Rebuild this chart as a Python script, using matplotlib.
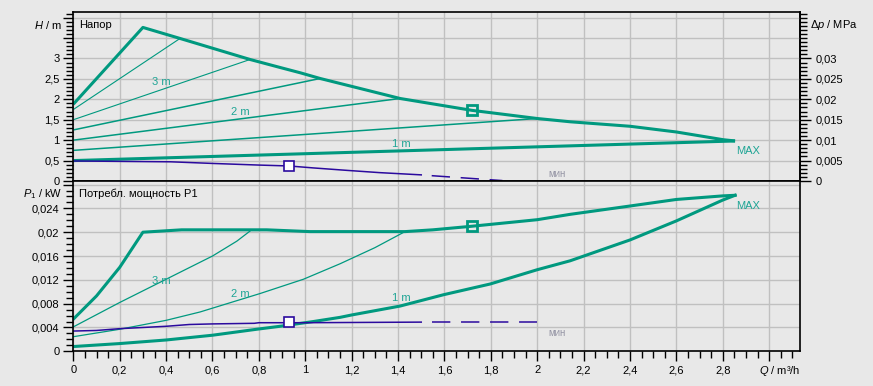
import numpy as np
import matplotlib
matplotlib.use("Agg")
import matplotlib.pyplot as plt
from matplotlib.ticker import MultipleLocator

plt.rcParams["font.family"] = ["Liberation Sans", "DejaVu Sans"]
plt.rcParams["mathtext.fontset"] = "custom"
plt.rcParams["mathtext.rm"] = "Liberation Sans"
plt.rcParams["mathtext.it"] = "Liberation Sans:italic"

# --- head (H / m) ---
q_hmax = [0, 0.3, 0.46, 0.762, 0.891, 0.978, 1.064, 1.409, 1.718, 2.0, 2.142, 2.4, 2.6, 2.803, 2.853]
h_hmax = [1.88, 3.76, 3.49, 2.975, 2.78, 2.65, 2.51, 2.02, 1.73, 1.53, 1.45, 1.34, 1.2, 1.01, 0.98]

# constant pressure lines: start head, end flow, end head
h_start = [1.75, 1.5, 1.25, 1.0, 0.75, 0.5]
q_end = [0.46, 0.762, 1.064, 1.409, 2.0, 2.853]
h_end = [3.49, 2.975, 2.51, 2.02, 1.53, 0.98]

q_hmin = [0, 0.42, 0.6, 0.8, 0.93, 1.035, 1.18, 1.32, 1.5]
h_hmin = [0.49, 0.47, 0.43, 0.39, 0.368, 0.32, 0.26, 0.205, 0.15]
q_hmin_dash = [1.545, 1.85]
h_hmin_dash = [0.13, 0.01]

# --- power (P1 / kW) ---
q_pmax = [0, 0.1, 0.2, 0.3, 0.467, 0.834, 1.02, 1.43, 1.55, 1.718, 2.0, 2.142, 2.4, 2.6, 2.8, 2.853]
p_pmax = [0.0054, 0.0093, 0.0141, 0.0200, 0.0204, 0.0204, 0.0201, 0.0201, 0.0204, 0.0210,
          0.0221, 0.0230, 0.0244, 0.0255, 0.0261, 0.0262]

q_p05 = [0, 0.2, 0.4, 0.6, 0.79, 0.891, 1.035, 1.15, 1.2, 1.409, 1.596, 1.797, 2.0, 2.142, 2.4, 2.6, 2.8, 2.853]
p_p05 = [0.0008, 0.0013, 0.0019, 0.0027, 0.0037, 0.0042, 0.0050, 0.0057, 0.0061, 0.0076,
         0.0095, 0.0113, 0.0137, 0.0152, 0.0187, 0.0219, 0.0254, 0.0262]

q_p15 = [0, 0.2, 0.4, 0.6, 0.705, 0.762]
p_p15 = [0.0041, 0.0082, 0.0121, 0.0160, 0.0185, 0.0202]

q_p10 = [0, 0.2, 0.4, 0.546, 0.805, 0.992, 1.15, 1.3, 1.43]
p_p10 = [0.00245, 0.0037, 0.0052, 0.0066, 0.0097, 0.0121, 0.0147, 0.0174, 0.0201]

q_pmin = [0, 0.1, 0.2, 0.3, 0.4, 0.5, 0.6, 0.78, 0.8, 1.0, 1.5]
p_pmin = [0.0034, 0.0035, 0.0038, 0.0040, 0.0042, 0.0045, 0.0046, 0.0047, 0.0048, 0.0048, 0.0049]
q_pmin_dash = [1.545, 2.0]
p_pmin_dash = [0.0049, 0.0049]

q_op = 1.718
h_op = 1.73
p_op = 0.021
q_opmin = 0.93
h_opmin = 0.368
p_opmin = 0.0049

# ticks
q_ticks = [0, 0.2, 0.4, 0.6, 0.8, 1.0, 1.2, 1.4, 1.6, 1.8, 2.0, 2.2, 2.4, 2.6, 2.8, 3.0]
q_labels = ["0", "0,2", "0,4", "0,6", "0,8", "1", "1,2", "1,4", "1,6", "1,8", "2",
            "2,2", "2,4", "2,6", "2,8", ""]
h_ticks = [0, 0.5, 1, 1.5, 2, 2.5, 3, 3.5, 4]
h_labels = ["0", "0,5", "1", "1,5", "2", "2,5", "3", "", ""]
dp_ticks = [0, 0.005, 0.01, 0.015, 0.02, 0.025, 0.03]
dp_labels = ["0", "0,005", "0,01", "0,015", "0,02", "0,025", "0,03"]
p_ticks = [0, 0.004, 0.008, 0.012, 0.016, 0.02, 0.024, 0.028]
p_labels = ["0", "0,004", "0,008", "0,012", "0,016", "0,02", "0,024", ""]

teal = "#00997f"
teal_txt = "#1fa595"
purple = "#2b0a9e"
bg = "#e8e8e8"

fig = plt.figure(figsize=(8.73, 3.86), dpi=100, facecolor=bg)
ax1 = fig.add_axes([0.0840, 0.5311, 0.8324, 0.4370], facecolor=bg)
ax2 = fig.add_axes([0.0840, 0.0899, 0.8324, 0.4412], facecolor=bg)

for ax in (ax1, ax2):
    ax.set_xlim(0, 3.133)
    ax.set_xticks(q_ticks)
    ax.xaxis.set_minor_locator(MultipleLocator(0.05))
    ax.grid(True, which="major", color="#c0c0c0", lw=1.0)
    ax.set_axisbelow(True)
    for s in ax.spines.values():
        s.set_linewidth(1.2)
    ax.tick_params(which="major", direction="out", length=7, width=1, labelsize=8, pad=3)
    ax.tick_params(which="minor", direction="out", length=5, width=1)

# top
ax1.set_ylim(0, 4.13)
ax1.set_yticks(h_ticks, labels=h_labels)
ax1.yaxis.set_minor_locator(MultipleLocator(0.1))
ax1.tick_params(axis="x", which="both", bottom=False, labelbottom=False)

ax1.plot(q_hmax, h_hmax, color=teal, lw=2.2, solid_capstyle="butt")
widths = [0.8, 0.8, 1.1, 1.1, 1.1, 2.2]
for hs, qe, he, w in zip(h_start, q_end, h_end, widths):
    ax1.plot([0, qe], [hs, he], color=teal, lw=w, solid_capstyle="butt")
ax1.plot(q_hmin, h_hmin, color=purple, lw=1.1)
ax1.plot(q_hmin_dash, h_hmin_dash, color=purple, lw=1.1, dashes=(12, 7))
ax1.plot([q_op], [h_op], marker="s", ms=7, mfc="none", mec=teal, mew=2)
ax1.plot([q_opmin], [h_opmin], marker="s", ms=7, mfc="white", mec=purple, mew=1.2)

ax1.text(0.38, 2.43, "3 m", color=teal_txt, fontsize=8, ha="center", va="center")
ax1.text(0.719, 1.68, "2 m", color=teal_txt, fontsize=8, ha="center", va="center")
ax1.text(1.416, 0.917, "1 m", color=teal_txt, fontsize=8, ha="center", va="center")
ax1.text(2.911, 0.73, "MAX", color=teal_txt, fontsize=8, ha="center", va="center")
ax1.text(2.087, 0.164, "мин", color="#9595a5", fontsize=7, ha="center", va="center")

sec = ax1.secondary_yaxis("right", functions=(lambda h: h / 100, lambda p: p * 100))
sec.set_yticks(dp_ticks, labels=dp_labels)
sec.yaxis.set_minor_locator(MultipleLocator(0.001))
sec.tick_params(which="major", direction="out", length=8, width=1, labelsize=8, pad=3)
sec.tick_params(which="minor", direction="out", length=5, width=1)
sec.spines["right"].set_linewidth(1.2)

# bottom
ax2.set_ylim(0, 0.0286)
ax2.set_yticks(p_ticks, labels=p_labels)
ax2.yaxis.set_minor_locator(MultipleLocator(0.001))
ax2.set_xticklabels(q_labels)

ax2.plot(q_pmax, p_pmax, color=teal, lw=2.2)
ax2.plot(q_p05, p_p05, color=teal, lw=2.2)
ax2.plot(q_p15, p_p15, color=teal, lw=0.9)
ax2.plot(q_p10, p_p10, color=teal, lw=0.9)
ax2.plot(q_pmin, p_pmin, color=purple, lw=1.1)
ax2.plot(q_pmin_dash, p_pmin_dash, color=purple, lw=1.1, dashes=(12, 7))
ax2.plot([q_op], [p_op], marker="s", ms=7, mfc="none", mec=teal, mew=2)
ax2.plot([q_opmin], [p_opmin], marker="s", ms=7, mfc="white", mec=purple, mew=1.2)

ax2.text(0.38, 0.01185, "3 m", color=teal_txt, fontsize=8, ha="center", va="center")
ax2.text(0.719, 0.00962, "2 m", color=teal_txt, fontsize=8, ha="center", va="center")
ax2.text(1.416, 0.0089, "1 m", color=teal_txt, fontsize=8, ha="center", va="center")
ax2.text(2.911, 0.02439, "MAX", color=teal_txt, fontsize=8, ha="center", va="center")
ax2.text(2.087, 0.0030, "мин", color="#9595a5", fontsize=7, ha="center", va="center")

W, H = 873, 386
fig.text(62 / W, 1 - 25 / H, r"$\mathit{H}$ / m", ha="right", va="center", fontsize=8)
fig.text(79 / W, 1 - 25 / H, "Напор", ha="left", va="center", fontsize=8)
fig.text(810 / W, 1 - 25 / H, r"$\mathit{Δp}$ / MPa", ha="left", va="center", fontsize=8)
fig.text(62 / W, 1 - 194 / H, r"$\mathit{P}_1$ / kW", ha="right", va="center", fontsize=8)
fig.text(79 / W, 1 - 194 / H, "Потребл. мощность P1", ha="left", va="center", fontsize=8)
fig.text(800 / W, 1 - 371 / H, r"$\mathit{Q}$ / m³/h", ha="right", va="center", fontsize=8)

fig.savefig("out.png", dpi=100, facecolor=bg)
